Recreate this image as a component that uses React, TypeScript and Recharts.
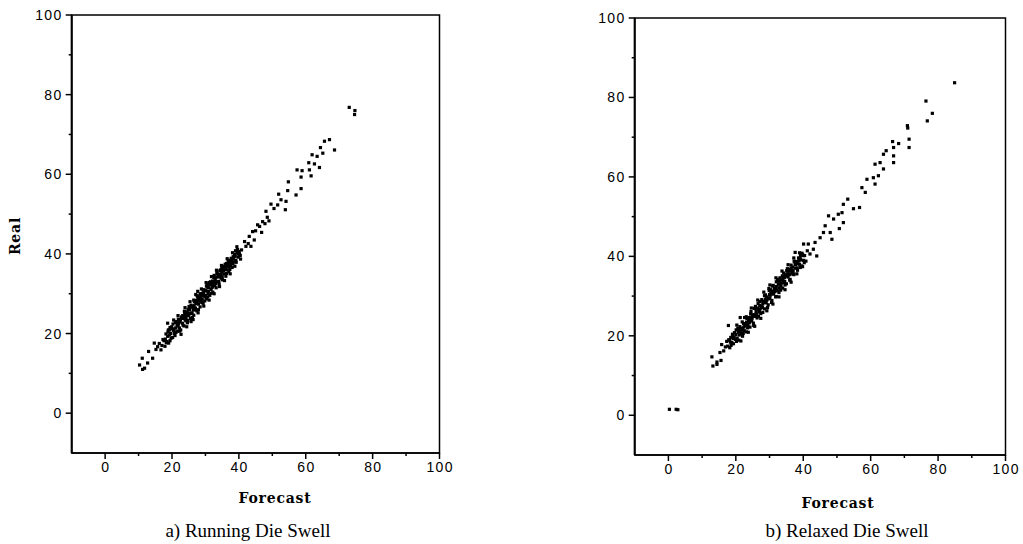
import { ReferenceArea, Scatter, ScatterChart, XAxis, YAxis } from "recharts";

const axisTicks = [0, 10, 20, 30, 40, 50, 60, 70, 80, 90, 100];
const labelledTicks = [0, 20, 40, 60, 80, 100];

// [forecast, real] read off panel a)
const runningPoints: [number, number][] = [
  [10.3, 12.1], [11.1, 13.8], [11.8, 11.3], [11.2, 11.0], [12.7, 12.6], [13.0, 15.5], [14.2, 13.8],
  [14.7, 17.6], [15.2, 16.0], [15.7, 16.7], [16.2, 17.5], [16.7, 15.9], [17.0, 17.0], [17.3, 18.5],
  [17.6, 18.2], [17.9, 16.8], [18.2, 19.9], [18.5, 18.0], [18.7, 19.3], [19.0, 17.6], [19.2, 19.6],
  [19.4, 21.5], [19.7, 18.8], [20.0, 21.2], [20.2, 19.0], [20.5, 21.1], [20.7, 20.0], [21.0, 22.8],
  [21.2, 20.3], [21.5, 22.1], [21.7, 20.6], [21.9, 23.6], [22.2, 21.4], [22.4, 22.9], [22.6, 20.9],
  [22.9, 24.2], [23.1, 22.6], [23.4, 23.8], [23.6, 21.9], [23.8, 25.1], [24.1, 23.2], [24.3, 24.6],
  [24.6, 22.7], [24.8, 26.0], [25.0, 24.5], [25.3, 25.9], [25.5, 23.8], [25.7, 27.1], [26.0, 25.2],
  [26.2, 26.6], [26.5, 24.6], [26.7, 28.0], [26.9, 26.1], [27.2, 27.5], [27.4, 25.7], [27.7, 29.1],
  [27.9, 27.4], [28.1, 28.8], [28.4, 26.7], [28.6, 30.0], [28.9, 28.2], [29.1, 29.6], [29.3, 27.6],
  [29.6, 31.0], [29.8, 29.2], [30.1, 30.7], [30.3, 28.7], [30.5, 32.1], [30.8, 30.0], [31.0, 31.5],
  [31.3, 29.6], [31.5, 33.0], [31.7, 31.1], [32.0, 32.5], [32.2, 30.4], [32.5, 34.1], [32.7, 32.0],
  [32.9, 33.5], [33.2, 31.5], [33.4, 35.0], [33.7, 33.0], [33.9, 34.3], [34.1, 32.4], [34.4, 35.8],
  [34.6, 34.0], [34.9, 35.5], [35.1, 33.5], [35.3, 36.8], [35.6, 35.0], [35.8, 36.3], [36.1, 34.4],
  [36.3, 37.6], [36.5, 36.0], [36.8, 37.4], [37.0, 35.5], [37.3, 38.4], [37.5, 37.0], [37.8, 38.4],
  [38.0, 36.6], [38.3, 39.3], [38.6, 38.0], [38.9, 39.4], [39.2, 37.9], [39.5, 40.4], [39.8, 39.2],
  [40.1, 40.6], [40.4, 39.6], [40.8, 41.0],
  [18.0, 18.6], [18.8, 20.4], [19.6, 20.0], [20.3, 22.4], [21.1, 21.4], [21.8, 21.9], [22.5, 23.5],
  [23.2, 24.5], [23.9, 23.6], [24.5, 25.4], [25.2, 26.3], [25.9, 26.7], [26.6, 27.0], [27.3, 28.3],
  [28.0, 28.1], [28.7, 29.3], [29.4, 30.2], [30.0, 30.8], [30.7, 31.6], [31.4, 32.3], [32.1, 33.2],
  [32.8, 33.0], [33.5, 34.2], [34.2, 34.7], [34.9, 36.3], [35.6, 36.5], [36.3, 36.9], [37.0, 38.2],
  [37.7, 37.8], [38.4, 38.8], [39.0, 40.8], [39.7, 40.0], [18.7, 22.6], [19.2, 20.9], [25.7, 23.0],
  [27.7, 30.6],
  [18.3, 17.7], [18.9, 20.9], [19.4, 18.2], [19.9, 21.7], [20.4, 20.8], [20.9, 19.5], [21.4, 23.0],
  [21.9, 22.4], [22.3, 20.6], [22.8, 23.9], [23.3, 22.1], [23.7, 25.6], [24.2, 24.0], [24.7, 23.3],
  [25.1, 26.8], [25.6, 25.0], [26.1, 24.0], [26.5, 28.4], [27.0, 26.4], [27.5, 29.5], [27.9, 26.0],
  [28.4, 29.9], [28.9, 27.8], [29.3, 30.9], [29.8, 28.2], [30.3, 31.9], [30.7, 29.2], [31.2, 32.8],
  [31.7, 30.1], [32.1, 31.9], [32.6, 34.6], [33.1, 32.5], [33.5, 35.6], [34.0, 33.1], [34.5, 36.0],
  [34.9, 33.9], [35.4, 35.8], [35.9, 37.4], [36.3, 35.1], [36.8, 38.2], [37.3, 36.1], [37.7, 38.9],
  [38.2, 37.5], [38.7, 39.9], [39.1, 38.4], [39.6, 41.1], [40.2, 39.9], [26.4, 25.9], [29.0, 29.9],
  [31.9, 32.6], [34.7, 34.9], [37.2, 37.6], [23.5, 24.3], [20.6, 21.0], [33.0, 34.0], [30.9, 30.6],
  [28.3, 28.5], [24.9, 25.0], [36.0, 36.1], [35.0, 36.9], [32.4, 32.9],
  [20.5, 23.4], [21.8, 24.5], [22.7, 19.8], [23.9, 26.5], [24.4, 21.7], [25.4, 28.0], [26.3, 23.5],
  [27.1, 29.8], [27.8, 25.2], [28.8, 31.2], [29.5, 26.9], [30.2, 32.8], [31.1, 28.4], [31.8, 34.3],
  [32.6, 30.0], [33.3, 35.9], [34.2, 31.8], [34.8, 37.1], [35.7, 33.3], [36.5, 38.8], [37.4, 35.0],
  [38.1, 40.3], [38.8, 36.9], [39.4, 41.8], [40.5, 38.7], [22.0, 22.8], [24.0, 24.9], [26.0, 26.8],
  [28.0, 29.2], [30.0, 29.6], [32.0, 31.6], [34.0, 34.9], [36.0, 37.0], [38.0, 38.0], [27.0, 27.9],
  [29.0, 28.6], [31.0, 32.5], [33.0, 32.9], [35.0, 34.3], [37.0, 36.8],
  [41.7, 43.1], [42.1, 41.9], [43.1, 44.4], [43.6, 41.9], [44.1, 45.6], [44.6, 43.5], [45.6, 47.3],
  [47.1, 48.1], [48.1, 50.7], [49.6, 52.5], [51.6, 52.3], [51.9, 55.0], [52.6, 53.6], [53.9, 51.1],
  [54.1, 53.2], [54.6, 55.9], [54.8, 58.1], [57.1, 54.8], [57.4, 61.1], [58.6, 56.4], [58.6, 59.3],
  [58.9, 60.9], [60.9, 62.9], [61.1, 61.1], [61.6, 59.6], [61.9, 64.9], [62.6, 62.6], [63.4, 64.5],
  [64.1, 61.7], [64.4, 66.7], [65.1, 65.3], [65.6, 68.3], [67.1, 68.7], [68.6, 66.1], [73.0, 76.8],
  [74.6, 75.0], [74.7, 76.0], [42.8, 42.6], [45.0, 45.8], [46.2, 46.9], [46.8, 45.4], [47.8, 47.6],
  [48.5, 49.2], [50.5, 51.4], [49.0, 48.3],
];

// [forecast, real] read off panel b)
const relaxedPoints: [number, number][] = [
  [0.3, 1.5], [2.3, 1.5], [2.8, 1.4],
  [12.9, 14.7], [13.2, 12.4], [14.4, 12.8], [14.4, 13.4], [15.3, 15.8], [15.6, 13.8], [15.8, 17.8],
  [16.4, 16.2], [17.3, 18.6], [17.8, 22.6], [16.9, 17.2], [21.3, 24.6],
  [17.6, 17.4], [17.9, 19.0], [18.2, 17.0], [18.5, 19.6], [18.8, 18.3], [19.0, 20.4], [19.3, 18.0],
  [19.6, 20.8], [19.9, 19.1], [20.1, 21.5], [20.4, 19.4], [20.7, 20.9], [20.9, 18.9], [21.2, 22.3],
  [21.5, 20.5], [21.7, 21.9], [22.0, 19.9], [22.3, 23.1], [22.5, 21.3], [22.8, 22.8], [23.1, 21.0],
  [23.3, 24.3], [23.6, 22.6], [23.9, 23.9], [24.2, 22.2], [24.4, 25.5], [24.7, 23.7], [25.0, 25.3],
  [25.2, 23.2], [25.5, 26.9], [25.8, 24.9], [26.0, 26.3], [26.3, 24.5], [26.6, 28.1], [26.9, 26.0],
  [27.1, 27.6], [27.4, 25.6], [27.7, 29.1], [27.9, 27.1], [28.2, 28.6], [28.5, 26.8], [28.8, 30.3],
  [29.0, 28.3], [29.3, 29.7], [29.6, 27.8], [29.9, 31.4], [30.1, 29.4], [30.4, 30.9], [30.7, 28.9],
  [30.9, 32.5], [31.2, 30.5], [31.5, 31.9], [31.8, 29.8], [32.0, 33.6], [32.3, 31.6], [32.6, 33.0],
  [32.8, 30.9], [33.1, 34.6], [33.4, 32.6], [33.6, 34.1], [33.9, 32.0], [34.2, 35.8], [34.5, 33.7],
  [34.7, 35.3], [35.0, 33.1], [35.3, 36.9], [35.5, 34.8], [35.8, 36.3], [36.1, 34.2], [36.4, 37.8],
  [36.6, 35.9], [36.9, 37.3], [37.2, 35.4], [37.5, 38.6], [37.7, 37.0], [38.0, 38.2], [38.3, 36.5],
  [38.6, 39.6], [38.9, 38.0], [39.2, 39.1], [39.5, 37.6], [39.8, 40.5], [40.1, 39.0], [40.4, 40.2],
  [40.8, 38.8], [41.2, 41.4],
  [18.4, 18.4], [19.2, 19.3], [20.0, 20.3], [20.8, 21.6], [21.6, 20.8], [22.4, 22.2], [23.2, 23.4],
  [24.0, 24.6], [24.8, 24.4], [25.6, 25.3], [26.4, 27.0], [27.2, 26.8], [28.0, 28.0], [28.8, 29.1],
  [29.6, 29.3], [30.4, 31.6], [31.2, 31.2], [32.0, 32.4], [32.8, 33.8], [33.6, 33.3], [34.4, 34.7],
  [35.2, 35.6], [36.0, 36.7], [36.8, 36.4], [37.6, 37.9], [38.4, 38.4], [39.2, 40.3], [40.0, 40.2],
  [18.1, 18.9], [18.6, 17.6], [19.1, 20.0], [19.5, 19.6], [20.2, 18.6], [20.6, 21.9], [21.0, 20.2],
  [21.4, 21.5], [21.9, 23.5], [22.2, 20.6], [22.7, 22.5], [23.1, 24.8], [23.5, 22.0], [24.0, 23.3],
  [24.5, 26.1], [24.9, 24.8], [25.3, 22.6], [25.8, 27.4], [26.2, 25.3], [26.7, 24.9], [27.1, 28.6],
  [27.6, 27.4], [28.0, 25.9], [28.5, 30.1], [28.9, 28.9], [29.4, 27.1], [29.8, 31.9], [30.2, 30.2],
  [30.6, 28.4], [31.1, 32.7], [31.5, 31.1], [32.0, 29.9], [32.4, 34.2], [32.9, 32.1], [33.3, 31.5],
  [33.8, 35.1], [34.2, 33.4], [34.6, 32.8], [35.1, 36.4], [35.6, 35.6], [36.0, 34.0], [36.4, 37.0],
  [36.9, 35.6], [37.3, 38.8], [37.8, 38.0], [38.2, 37.1], [38.7, 38.9], [39.1, 37.2], [39.6, 40.8],
  [40.3, 38.4], [26.8, 26.6], [29.2, 29.0], [31.7, 31.7], [34.0, 34.0], [36.6, 36.5], [23.8, 23.8],
  [21.0, 21.2], [33.0, 33.0], [28.4, 28.4], [30.6, 30.6],
  [20.3, 22.7], [21.5, 18.7], [22.6, 24.6], [23.7, 20.9], [24.6, 27.0], [25.6, 22.4], [26.5, 29.0],
  [27.4, 24.4], [28.3, 31.0], [29.2, 26.3], [30.1, 32.8], [31.0, 28.0], [31.9, 34.6], [32.8, 29.8],
  [33.7, 36.3], [34.6, 31.6], [35.5, 37.9], [36.4, 33.5], [37.2, 39.6], [38.1, 35.6], [38.9, 40.9],
  [39.8, 37.4], [22.0, 21.6], [24.0, 24.3], [26.0, 25.6], [28.0, 28.7], [30.0, 30.4], [32.0, 31.3],
  [34.0, 34.8], [36.0, 35.4], [38.0, 38.7], [27.0, 26.2], [29.0, 29.8], [31.0, 30.8], [33.0, 33.8],
  [35.0, 35.0], [37.0, 36.2],
  [37.6, 41.0], [39.1, 39.7], [40.1, 43.1], [41.5, 43.1], [42.0, 40.6], [43.0, 41.8], [43.5, 43.5],
  [44.0, 40.1], [45.0, 44.7], [46.0, 46.0], [46.5, 47.7], [47.5, 50.2], [48.0, 46.0], [48.5, 44.3],
  [49.0, 49.4], [50.4, 50.6], [50.7, 47.0], [51.5, 51.0], [51.9, 48.5], [51.9, 53.1], [53.2, 54.4],
  [54.9, 52.0], [56.7, 52.3], [57.4, 57.3], [58.4, 56.1], [58.9, 59.4], [60.8, 59.8], [61.3, 58.2],
  [61.3, 63.2], [62.3, 60.3], [62.8, 63.6], [63.8, 62.0], [63.8, 65.7], [64.6, 66.6], [66.8, 65.3],
  [66.8, 63.6], [66.5, 68.9], [66.8, 67.4], [68.3, 68.4], [70.9, 72.9], [71.0, 72.3], [71.4, 69.5],
  [71.4, 67.4], [76.4, 79.1], [76.8, 74.1], [78.3, 76.0], [84.9, 83.7],
];

const tickFont = { fontFamily: "'Liberation Sans', Arial, sans-serif", fontSize: 14, letterSpacing: 1.4 };
const titleFont = { fontFamily: "'DejaVu Serif', serif", fontSize: 14, fontWeight: 700, letterSpacing: 0.8 };
const captionFont = { fontFamily: "'Liberation Serif', 'Times New Roman', serif", fontSize: 19 };

function XTick({ x, y, payload }: any) {
  const major = labelledTicks.includes(payload.value);
  return (
    <g>
      <line x1={x} x2={x} y1={y} y2={y + (major ? 6 : 3)} stroke="#000" strokeWidth={1.5} />
      {major && (
        <text x={x + 0.7} y={y + 19} textAnchor="middle" fill="#000" style={tickFont}>
          {payload.value}
        </text>
      )}
    </g>
  );
}

function YTick({ x, y, payload }: any) {
  const major = labelledTicks.includes(payload.value);
  return (
    <g>
      <line x1={x - (major ? 6 : 3)} x2={x} y1={y} y2={y} stroke="#000" strokeWidth={1.5} />
      {major && (
        <text x={x - 9} y={y + 5} textAnchor="end" fill="#000" style={tickFont}>
          {payload.value}
        </text>
      )}
    </g>
  );
}

// scanned dots look like small square blobs
const dot = (p: any) => <rect x={p.cx - 1.6} y={p.cy - 1.6} width={3.2} height={3.2} fill="#000" />;

function Panel({ points, left, width, top, right, yAxisWidth, xAxisHeight }: any) {
  const data = points.map(([forecast, real]: [number, number]) => ({ forecast, real }));
  return (
    <div style={{ position: "absolute", left, top: 0 }}>
      <ScatterChart width={width} height={544} margin={{ top, right, bottom: 0, left: 0 }}>
        <XAxis
          type="number"
          dataKey="forecast"
          domain={[-10, 100]}
          ticks={axisTicks}
          interval={0}
          allowDataOverflow
          height={xAxisHeight}
          tickSize={0}
          tickMargin={0}
          tickLine={false}
          axisLine={{ stroke: "#000", strokeWidth: 1.5 }}
          tick={XTick}
        />
        <YAxis
          type="number"
          dataKey="real"
          domain={[-10, 100]}
          ticks={axisTicks}
          interval={0}
          allowDataOverflow
          width={yAxisWidth}
          tickSize={0}
          tickMargin={0}
          tickLine={false}
          axisLine={{ stroke: "#000", strokeWidth: 2 }}
          tick={YTick}
        />
        <ReferenceArea x1={-10} x2={100} y1={-10} y2={100} fill="none" fillOpacity={0} stroke="#000" strokeWidth={1.5} />
        <Scatter data={data} shape={dot} isAnimationActive={false} />
      </ScatterChart>
    </div>
  );
}

export default function App() {
  return (
    <div style={{ position: "absolute", left: 0, top: 0, width: 1023, height: 544, background: "#fff", overflow: "hidden" }}>
      <Panel points={runningPoints} left={0} width={470} top={15} right={30.5} yAxisWidth={71.7} xAxisHeight={91} />
      <Panel points={relaxedPoints} left={560} width={463} top={18} right={17.5} yAxisWidth={74.7} xAxisHeight={89} />
      <svg width={1023} height={544} style={{ position: "absolute", left: 0, top: 0, pointerEvents: "none" }}>
        <text transform="translate(20,236) rotate(-90)" textAnchor="middle" style={titleFont}>Real</text>
        <text x={275} y={503} textAnchor="middle" style={titleFont}>Forecast</text>
        <text x={838} y={508} textAnchor="middle" style={titleFont}>Forecast</text>
        <text x={248} y={537} textAnchor="middle" style={captionFont}>a) Running Die Swell</text>
        <text x={847} y={537} textAnchor="middle" style={captionFont}>b) Relaxed Die Swell</text>
      </svg>
    </div>
  );
}
